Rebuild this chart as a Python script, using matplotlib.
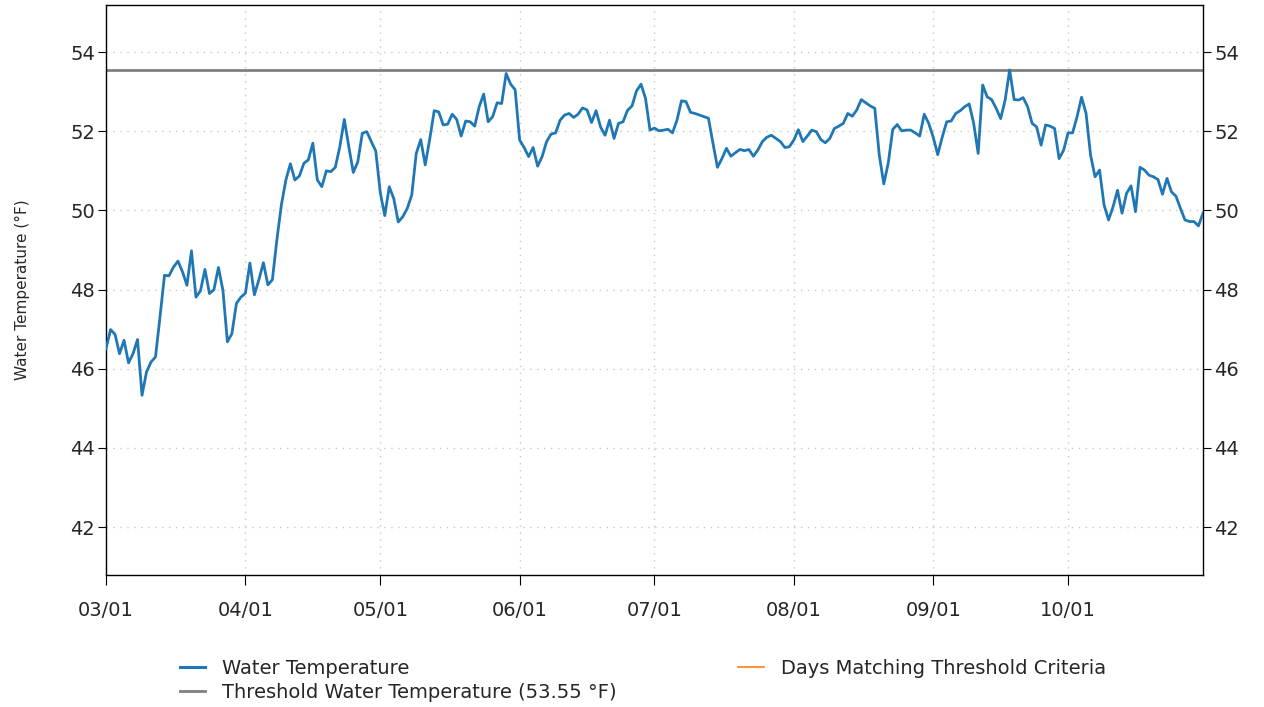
import matplotlib
matplotlib.use("Agg")
import matplotlib.pyplot as plt
import matplotlib.dates as mdates
import pandas as pd
from matplotlib.lines import Line2D

start_date = "2023-03-01"
water_temp = [
    46.51, 46.99, 46.87, 46.38, 46.72, 46.15, 46.38, 46.74, 45.33, 45.92,
    46.17, 46.30, 47.31, 48.36, 48.35, 48.57, 48.72, 48.45, 48.11, 48.98,
    47.81, 47.97, 48.51, 47.90, 48.00, 48.56, 47.98, 46.68, 46.89, 47.65,
    47.81, 47.91, 48.67, 47.87, 48.25, 48.68, 48.12, 48.25, 49.26, 50.14,
    50.77, 51.18, 50.77, 50.87, 51.19, 51.28, 51.70, 50.77, 50.60, 51.00,
    50.98, 51.09, 51.61, 52.30, 51.61, 50.96, 51.23, 51.95, 51.99, 51.74,
    51.50, 50.45, 49.87, 50.60, 50.30, 49.71, 49.84, 50.05, 50.39, 51.44,
    51.79, 51.15, 51.80, 52.52, 52.49, 52.16, 52.18, 52.43, 52.30, 51.88,
    52.26, 52.24, 52.13, 52.62, 52.94, 52.24, 52.37, 52.72, 52.70, 53.46,
    53.19, 53.05, 51.78, 51.59, 51.36, 51.59, 51.12, 51.36, 51.74, 51.93,
    51.96, 52.28, 52.41, 52.45, 52.35, 52.43, 52.59, 52.54, 52.22, 52.52,
    52.11, 51.90, 52.28, 51.82, 52.20, 52.24, 52.53, 52.64, 53.02, 53.19,
    52.83, 52.03, 52.08, 52.01, 52.03, 52.05, 51.96, 52.28, 52.77, 52.75,
    52.48, 52.45, 52.41, 52.37, 52.33, 51.70, 51.09, 51.31, 51.57, 51.37,
    51.46, 51.54, 51.51, 51.54, 51.37, 51.53, 51.74, 51.85, 51.90, 51.82,
    51.74, 51.59, 51.61, 51.78, 52.04, 51.74, 51.88, 52.03, 51.99, 51.79,
    51.71, 51.82, 52.07, 52.13, 52.20, 52.45, 52.38, 52.54, 52.80, 52.72,
    52.64, 52.58, 51.40, 50.67, 51.20, 52.05, 52.17, 52.01, 52.03, 52.03,
    51.96, 51.88, 52.43, 52.20, 51.85, 51.41, 51.85, 52.24, 52.26, 52.45,
    52.52, 52.62, 52.69, 52.20, 51.44, 53.17, 52.87, 52.80, 52.58, 52.32,
    52.79, 53.55, 52.80, 52.79, 52.85, 52.62, 52.20, 52.11, 51.65, 52.16,
    52.13, 52.07, 51.31, 51.52, 51.96, 51.96, 52.37, 52.86, 52.45, 51.40,
    50.85, 51.02, 50.14, 49.76, 50.09, 50.51, 49.93, 50.43, 50.62, 49.97,
    51.09, 51.02, 50.89, 50.85, 50.78, 50.41, 50.81, 50.47, 50.36, 50.05,
    49.76, 49.72, 49.72, 49.61, 49.93,
]
threshold = 53.55
labels = ["Water Temperature",
          "Threshold Water Temperature (53.55 °F)",
          "Days Matching Threshold Criteria"]
month_ticks = ["2023-03-01", "2023-04-01", "2023-05-01", "2023-06-01",
               "2023-07-01", "2023-08-01", "2023-09-01", "2023-10-01"]

dates = pd.date_range(start_date, periods=len(water_temp), freq="D")

fig = plt.figure(figsize=(12.64, 7.07), dpi=100)
ax = fig.add_axes([0.0839, 0.1867, 0.8678, 0.8062])

blue = "#1f77b4"
grey = "#808080"
orange = "#ff7f0e"
text_c = "#262626"

ax.axhline(threshold, color=grey, lw=2.0, zorder=2)
ax.plot(dates, water_temp, color=blue, lw=2.0, zorder=3)

ax.set_xlim(dates[0], dates[-1])
ax.set_ylim(40.79, 55.19)
ax.set_yticks([42, 44, 46, 48, 50, 52, 54])
ax.set_xticks(pd.to_datetime(month_ticks))
ax.xaxis.set_major_formatter(mdates.DateFormatter("%m/%d"))

ax.grid(True, linestyle=(0, (1, 4)), color="#c8c8c8", lw=1.0)
ax.tick_params(axis="both", labelsize=14, direction="out", length=7,
               labelcolor=text_c)
ax.tick_params(axis="x", pad=12)
ax.tick_params(axis="y", pad=2, length=6, right=True, labelright=True)
for s in ax.spines.values():
    s.set_linewidth(1.0)
ax.set_ylabel("Water Temperature (°F)", fontsize=11, color=text_c)
ax.yaxis.set_label_coords(-0.0693, 0.5)

handles = [Line2D([], [], color=blue, lw=2.2),
           Line2D([], [], color=grey, lw=2.0),
           Line2D([], [], color=orange, lw=1.2)]
leg = fig.legend(handles, labels, loc="center", bbox_to_anchor=(0.5085, 0.038),
                 ncol=2, frameon=False, fontsize=14, handlelength=1.3,
                 handletextpad=0.88, columnspacing=6.25, labelspacing=0.25)
for t in leg.get_texts():
    t.set_color(text_c)

fig.savefig("out.png", dpi=100)
